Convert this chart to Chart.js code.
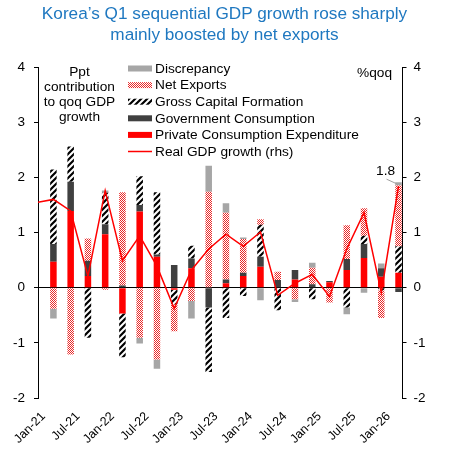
<!DOCTYPE html>
<html><head><meta charset="utf-8">
<script src="https://cdn.jsdelivr.net/npm/chart.js@4.4.1/dist/chart.umd.min.js"></script>
<style>
html,body{margin:0;padding:0;background:#fff;}
#wrap{position:relative;width:449px;height:453px;font-family:"Liberation Sans",Arial,sans-serif;overflow:hidden;}
#c{position:absolute;left:0;top:0;width:449px;height:453px;}
.t{position:absolute;white-space:nowrap;}
#title{left:0;top:3px;width:449px;text-align:center;font-size:17.2px;line-height:20.5px;color:#1F78C0;}
#ppt{left:29.5px;top:64px;width:100px;text-align:center;font-size:13.7px;line-height:15px;color:#000;}
#qoq{left:357px;top:65px;font-size:13.7px;line-height:15px;color:#000;}
</style></head>
<body><div id="wrap">
<canvas id="c" width="449" height="453"></canvas>
<div class="t" id="title">Korea’s Q1 sequential GDP growth rose sharply<br>mainly boosted by net exports</div>
<div class="t" id="ppt">Ppt<br>contribution<br>to qoq GDP<br>growth</div>
<div class="t" id="qoq">%qoq</div>
</div>
<script>
const quarters = ['Oct-20','Jan-21','Apr-21','Jul-21','Oct-21','Jan-22','Apr-22','Jul-22','Oct-22','Jan-23','Apr-23','Jul-23','Oct-23','Jan-24','Apr-24','Jul-24','Oct-24','Jan-25','Apr-25','Jul-25','Oct-25','Jan-26'];
const privateConsumption = [null, 0.47, 1.39, 0.21, 0.97, -0.47, 1.38, 0.56, -0.04, 0.35, 0, 0.08, 0.21, 0.38, 0, 0.15, 0, 0.10, 0.32, 0.54, 0.20, 0.27];
const governmentConsumption = [null, 0.32, 0.53, 0.28, 0.18, 0.04, 0.12, 0.04, 0.41, 0.18, -0.36, 0.07, 0.06, 0.18, 0.14, 0.17, 0.06, 0.02, 0.20, 0.25, 0.15, -0.08];
const grossCapitalFormation = [null, 1.35, 0.64, -0.91, 0.57, -0.79, 0.52, 1.13, -0.26, 0.23, -1.17, -0.55, -0.15, 0.58, -0.41, 0, -0.21, 0, -0.36, 0.15, -0.05, 0.48];
const netExports = [null, -0.38, -1.21, 0.40, -0.04, 1.69, -0.91, -1.30, -0.49, -0.24, 1.74, 1.21, 0.61, 0.10, 0.15, -0.21, 0.30, -0.27, 0.61, 0.50, -0.50, 1.10];
const discrepancy = [null, -0.18, 0, 0, 0.04, 0, -0.10, -0.17, 0, -0.32, 0.47, 0.17, 0.03, -0.23, 0, -0.05, 0.09, 0, -0.12, -0.09, 0.09, 0.06];
const realGdpGrowth = [1.54, 1.60, 1.39, 0.21, 1.76, 0.49, 0.94, 0.39, -0.38, 0.32, 0.70, 0.97, 0.75, 1.01, -0.14, 0.08, 0.24, -0.16, 0.70, 1.36, -0.09, 1.84];
const yTickValues = [-2, -1, 0, 1, 2, 3, 4];
const xTickLabels = ['Jan-21','Jul-21','Jan-22','Jul-22','Jan-23','Jul-23','Jan-24','Jul-24','Jan-25','Jul-25','Jan-26'];

const canvas = document.getElementById('c');
const cctx = canvas.getContext('2d');
const FONT = '"Liberation Sans", Arial, sans-serif';

function stripePattern() {
  const t = document.createElement('canvas'); t.width = 6; t.height = 6;
  const g = t.getContext('2d');
  g.strokeStyle = '#000'; g.lineWidth = 2.2;
  g.beginPath();
  g.moveTo(-3, 9); g.lineTo(9, -3);
  g.moveTo(-3, 3); g.lineTo(3, -3);
  g.moveTo(3, 9); g.lineTo(9, 3);
  g.stroke();
  return cctx.createPattern(t, 'repeat');
}
function dotPattern() {
  const t = document.createElement('canvas'); t.width = 4; t.height = 4;
  const g = t.getContext('2d');
  g.fillStyle = '#fff'; g.fillRect(0, 0, 4, 4);
  g.fillStyle = '#EA2828';
  for (let y = 0; y < 4; y++) for (let x = 0; x < 4; x++) if ((x + y) % 2 === 0) g.fillRect(x, y, 1, 1);
  return cctx.createPattern(t, 'repeat');
}
const stripes = stripePattern();
const dots = dotPattern();

const pts = arr => arr.map((v, i) => ({x: i, y: v}));

const legendPlugin = {
  id: 'sideLegend',
  afterDraw(chart) {
    const ctx = chart.ctx;
    const order = [5, 4, 3, 2, 1, 0];
    ctx.save();
    ctx.font = '13.7px ' + FONT;
    ctx.textBaseline = 'middle';
    ctx.textAlign = 'left';
    order.forEach((di, k) => {
      const ds = chart.data.datasets[di];
      const yc = 68.5 + k * 16.6;
      if (ds.type === 'line') {
        ctx.strokeStyle = ds.borderColor; ctx.lineWidth = 1.5;
        ctx.beginPath(); ctx.moveTo(128, yc); ctx.lineTo(152, yc); ctx.stroke();
      } else {
        ctx.fillStyle = ds.backgroundColor;
        ctx.fillRect(128, yc - 3, 24, 6);
      }
      ctx.fillStyle = '#000';
      ctx.fillText(ds.label, 155, yc + 0.5);
    });
    ctx.restore();
  }
};

const labelPlugin = {
  id: 'lastLabel',
  afterDatasetsDraw(chart) {
    const meta = chart.getDatasetMeta(0);
    const last = realGdpGrowth.length - 1;
    const p = meta.data[last];
    const ctx = chart.ctx;
    ctx.save();
    ctx.strokeStyle = '#A0A0A0'; ctx.lineWidth = 1;
    ctx.beginPath(); ctx.moveTo(p.x - 12, p.y - 7); ctx.lineTo(p.x - 1, p.y - 2); ctx.stroke();
    ctx.fillStyle = '#000';
    ctx.font = '13.7px ' + FONT;
    ctx.textAlign = 'center'; ctx.textBaseline = 'middle';
    ctx.fillText(realGdpGrowth[last].toFixed(1), p.x - 13, p.y - 15);
    ctx.restore();
  }
};

Chart.defaults.font.family = FONT;
Chart.defaults.color = '#000';

new Chart(canvas, {
  type: 'bar',
  data: {
    datasets: [
      {type: 'line', label: 'Real GDP growth (rhs)', data: pts(realGdpGrowth), yAxisID: 'y1', borderColor: '#FF0000', borderWidth: 1.5, pointRadius: 0, tension: 0, fill: false, order: 0},
      {label: 'Private Consumption Expenditure', data: pts(privateConsumption), backgroundColor: '#FF0000', yAxisID: 'y', order: 1},
      {label: 'Government Consumption', data: pts(governmentConsumption), backgroundColor: '#404040', yAxisID: 'y', order: 1},
      {label: 'Gross Capital Formation', data: pts(grossCapitalFormation), backgroundColor: stripes, yAxisID: 'y', order: 1},
      {label: 'Net Exports', data: pts(netExports), backgroundColor: dots, yAxisID: 'y', order: 1},
      {label: 'Discrepancy', data: pts(discrepancy), backgroundColor: '#A6A6A6', yAxisID: 'y', order: 1}
    ]
  },
  options: {
    responsive: false,
    animation: false,
    devicePixelRatio: 1,
    layout: {padding: {top: 67, left: 0, right: 0, bottom: 0}},
    datasets: {bar: {barPercentage: 0.42, categoryPercentage: 0.9, borderWidth: 0}},
    plugins: {legend: {display: false}, tooltip: {enabled: false}, title: {display: false}},
    scales: {
      x: {
        type: 'linear', min: 0.107, max: 21.23, stacked: true, offset: false,
        grid: {display: false}, border: {display: false},
        afterBuildTicks: s => { s.ticks = xTickLabels.map(l => ({value: quarters.indexOf(l)})); },
        ticks: {autoSkip: false, maxRotation: 45, minRotation: 45, font: {size: 12.5}, color: '#000', labelOffset: -10, padding: 3,
          callback: v => quarters[v]},
        afterFit: s => { s.height = 55; }
      },
      y: {
        position: 'left', min: -2, max: 4, stacked: true, z: 1,
        afterBuildTicks: s => { s.ticks = yTickValues.map(v => ({value: v})); },
        ticks: {padding: 9, color: '#000', font: {size: 13.5}},
        grid: {color: c => (c.tick && c.tick.value === 0) ? '#000' : 'rgba(0,0,0,0)', tickColor: '#000', tickLength: 4, lineWidth: 1},
        border: {display: true, color: '#000', width: 1},
        afterFit: s => { s.width = 38; }
      },
      y1: {
        position: 'right', min: -2, max: 4,
        afterBuildTicks: s => { s.ticks = yTickValues.map(v => ({value: v})); },
        ticks: {padding: 7, color: '#000', font: {size: 13.5}},
        grid: {drawOnChartArea: false, tickColor: '#000', tickLength: 4},
        border: {display: true, color: '#000', width: 1},
        afterFit: s => { s.width = 46.5; }
      }
    }
  },
  plugins: [legendPlugin, labelPlugin]
});
</script>
</body></html>
